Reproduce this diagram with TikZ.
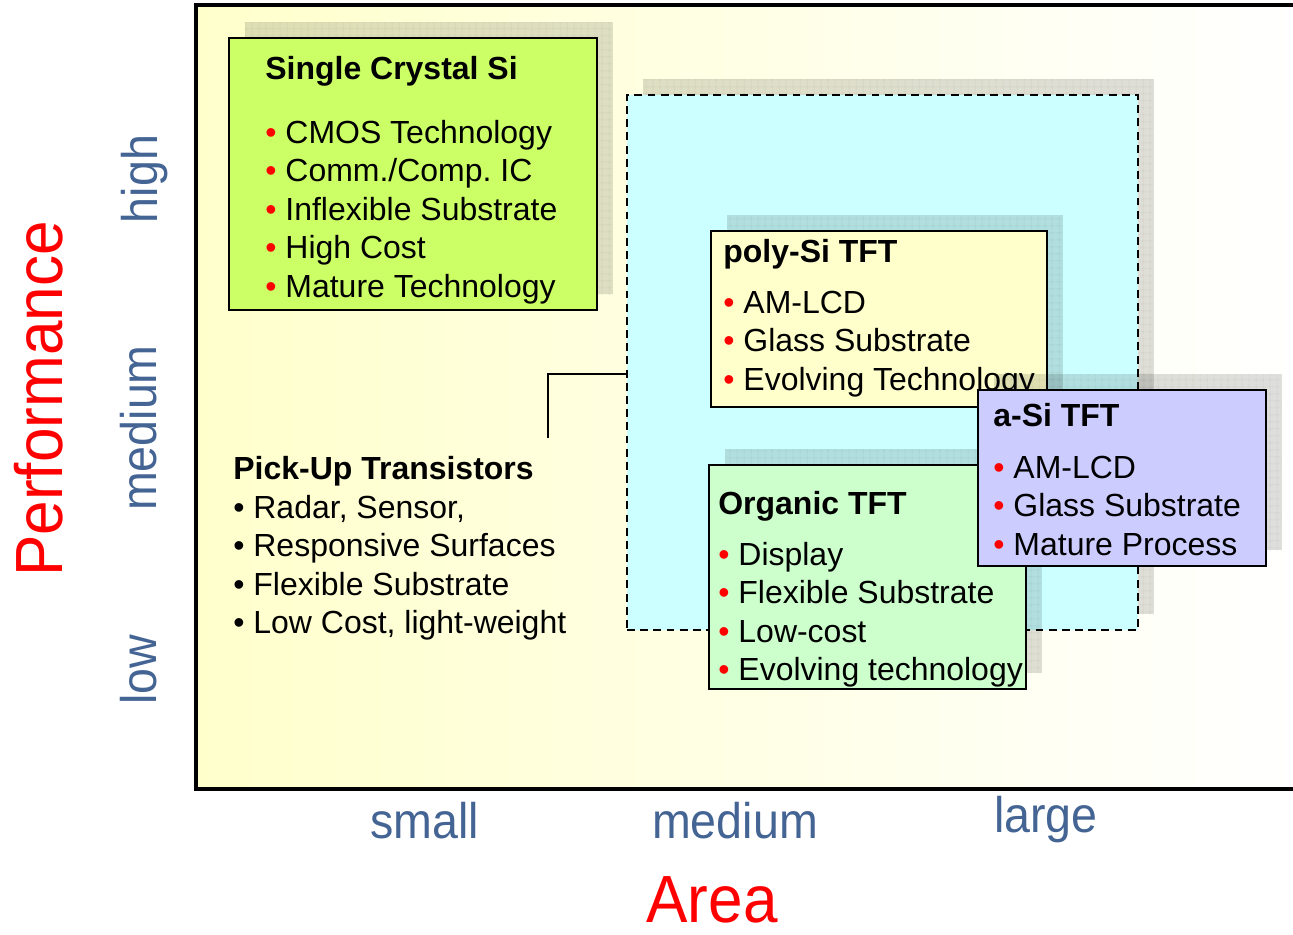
\documentclass[tikz,border=0pt]{standalone}
\usepackage{fontspec}
\setmainfont{Liberation Sans}
\newfontfamily\narrowsf[FakeStretch=0.93]{Liberation Sans}
\usepackage{xcolor}
\usepackage{tikz}
\usetikzlibrary{positioning,fit,calc,shadows,patterns.meta}
\definecolor{bgyellow}{RGB}{255,255,204}
\definecolor{sigreen}{RGB}{204,255,102}
\definecolor{areacyan}{RGB}{204,255,255}
\definecolor{polyyellow}{RGB}{255,255,204}
\definecolor{asiblue}{RGB}{204,204,255}
\definecolor{orggreen}{RGB}{204,255,204}
\definecolor{axisblue}{RGB}{68,100,148}
\newcommand{\redbullet}{\textcolor{red}{\textbullet}\ }
\frenchspacing
\tikzset{
  techbox/.style={rectangle, draw, line width=1.1pt, inner sep=0pt,
    drop shadow={shadow xshift=0.31cm, shadow yshift=0.32cm, fill=black, opacity=0.13,
      postaction={pattern={Hatch[angle=0, distance=4pt, line width=0.35pt]}, pattern color=black!60}}},
  areabox/.style={techbox, line width=0.9pt, dash pattern=on 4.5pt off 3pt},
  title/.style={anchor=base west, inner sep=0pt, font=\fontsize{18.2}{21.8}\selectfont\bfseries},
  item/.style={anchor=base west, inner sep=0pt, font=\fontsize{18.2}{21.8}\selectfont},
  ticklabel/.style={inner sep=0pt, text=axisblue, font=\fontsize{28.5}{34}\narrowsf},
  axislabel/.style={inner sep=0pt, text=red, font=\fontsize{38}{45}\narrowsf},
  hookline/.style={line width=0.9pt},
}

\begin{document}
\begin{tikzpicture}[x=0.02cm, y=-0.02cm]
  \useasboundingbox (0,0) rectangle (1293,934);

  % plot area with fading background and open frame
  \shade[left color=bgyellow, right color=white] (196,5) rectangle (1293,789);
  \draw[line width=1.8pt] (1293,5) -- (196,5) -- (196,789) -- (1293,789);

  % Single Crystal Si
  \node[techbox, fill=sigreen, fit={(229,38) (597,310)}] (scsi) {};
  \node[title] (scsititle) at (265,79) {Single Crystal Si};
  \foreach \txt [count=\i from 0] in {CMOS Technology, Comm./Comp. IC, Inflexible Substrate, High Cost, Mature Technology}
    \node[item] (scsi\i) at (265,{143+38.5*\i}) {\redbullet\txt};

  % medium area region
  \node[areabox, fill=areacyan, fit={(627,95) (1138,630)}] (medarea) {};

  % poly-Si TFT
  \node[techbox, fill=polyyellow, fit={(711,231) (1047,407)}] (poly) {};
  \node[title] (polytitle) at (723,262) {poly-Si TFT};
  \foreach \txt [count=\i from 0] in {AM-LCD, Glass Substrate, Evolving Technology}
    \node[item] (poly\i) at (723,{313+38.5*\i}) {\redbullet\txt};

  % Organic TFT
  \node[techbox, fill=orggreen, fit={(709,465) (1026,689)}] (org) {};
  \node[title] (orgtitle) at (718,514) {Organic TFT};
  \foreach \txt [count=\i from 0] in {Display, Flexible Substrate, Low-cost, Evolving technology}
    \node[item] (org\i) at (718,{565+38.5*\i}) {\redbullet\txt};

  % a-Si TFT
  \node[techbox, fill=asiblue, fit={(978,390) (1266,566)}] (asi) {};
  \node[title] (asititle) at (993,426) {a-Si TFT};
  \foreach \txt [count=\i from 0] in {AM-LCD, Glass Substrate, Mature Process}
    \node[item] (asi\i) at (993,{478+38.5*\i}) {\redbullet\txt};

  % Pick-Up Transistors
  \node[title] (pickup) at (233,479) {Pick-Up Transistors};
  \foreach \txt [count=\i from 0] in {{Radar, Sensor,}, Responsive Surfaces, Flexible Substrate, {Low Cost, light-weight}}
    \node[item] (pickup\i) at (233,{518+38.5*\i}) {\textbullet\ \txt};
  \coordinate (hook) at (548,438);
  \draw[hookline] (hook) |- (medarea.west |- 0,374);

  % axes
  \node[axislabel, rotate=90] (perf) at (39,399) {Performance};
  \node[ticklabel, rotate=90] (perfhigh) at (145,179) {high};
  \node[ticklabel, rotate=90] (perfmed) at (139,428) {medium};
  \node[ticklabel, rotate=90] (perflow) at (139,670) {low};
  \node[ticklabel] (areasmall) at (425,821) {small};
  \node[ticklabel] (areamed) at (735,821) {medium};
  \node[ticklabel] (arealarge) at (1046,820) {large};
  \node[axislabel] (area) at (712,900) {Area};
\end{tikzpicture}
\end{document}
